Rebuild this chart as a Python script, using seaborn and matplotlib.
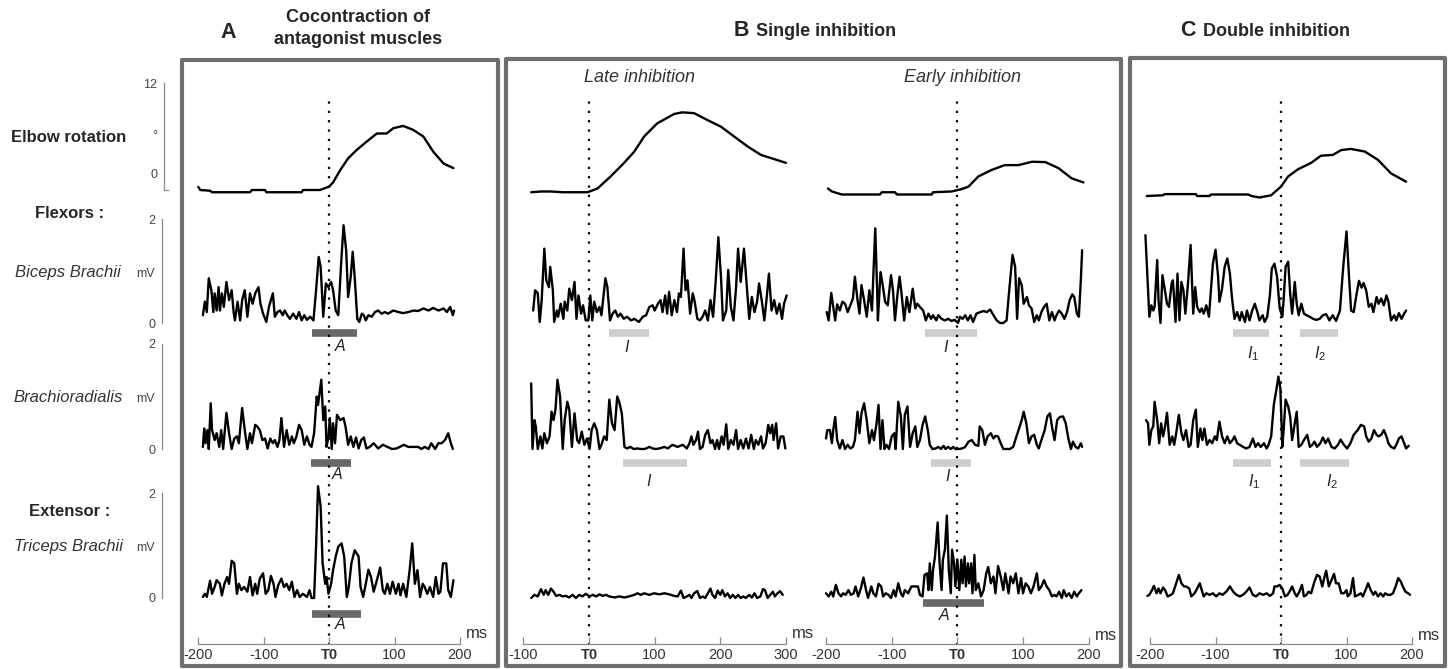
import numpy as np
import pandas as pd
import matplotlib
matplotlib.use('Agg')
import matplotlib.pyplot as plt
import seaborn as sns
from matplotlib.patches import Rectangle

sns.set_theme(style='white')
plt.rcParams['font.family'] = ['Liberation Sans', 'DejaVu Sans']
plt.rcParams['mathtext.fontset'] = 'custom'
plt.rcParams['mathtext.it'] = 'Liberation Sans:italic'
plt.rcParams['mathtext.rm'] = 'Liberation Sans'

# ---------------- DATA (time in ms, elbow in deg, EMG in mV) ----------------
A_elbow = [(-200,-1.8),(-197,-2.2),(-182,-2.3),(-179,-2.5),(-121,-2.5),(-118,-2.2),(-98,-2.2),(-96,-2.5),
           (-42,-2.5),(-40,-2.2),(-14,-2.2),(0,-1.75),(6,-1.2),(17,0.45),(29,2.0),(42,3.1),(57,4.2),(73,5.3),
           (88,5.3),(98,6.0),(113,6.3),(128,5.8),(144,4.9),(159,2.9),(175,1.3),(190,0.7)]
Bl_elbow = [(-88,-2.5),(-73,-2.4),(-58,-2.4),(-40,-2.5),(-2,-2.5),(13,-2.0),(33,-0.4),(53,1.35),(69,2.9),
            (84,4.9),(104,6.65),(130,7.9),(142,8.1),(160,8.0),(180,7.1),(201,6.2),(221,4.9),(242,3.55),
            (262,2.45),(282,1.9),(300,1.4)]
Be_elbow = [(-197,-2.0),(-191,-2.4),(-176,-2.8),(-118,-2.8),(-115,-2.5),(-95,-2.5),(-92,-2.8),(-39,-2.8),
            (-37,-2.5),(-9,-2.4),(6,-2.1),(17,-1.75),(32,-0.4),(52,0.45),(72,1.1),(93,1.1),(114,1.55),
            (134,1.5),(154,0.7),(174,-0.65),(192,-1.2)]
C_elbow = [(-205,-3.0),(-180,-2.9),(-178,-2.75),(-130,-2.75),(-128,-3.0),(-109,-3.0),(-107,-2.8),(-50,-2.8),
           (-45,-3.0),(-33,-3.2),(-15,-2.9),(0,-1.75),(11,-0.4),(26,0.55),(46,1.4),(61,2.35),(79,2.45),
           (92,3.1),(107,3.25),(128,2.9),(148,1.8),(168,0.0),(191,-1.1)]

A_biceps = [(-193,.15),(-190,.41),(-187,.21),(-184,.86),(-180,.63),(-177,.21),(-175,.57),(-172,.24),(-169,.69),
            (-167,.24),(-164,.57),(-161,.31),(-157,.79),(-153,.44),(-149,.63),(-146,.21),(-144,.05),(-140,.41),
            (-136,.05),(-133,.44),(-129,.63),(-125,.12),(-121,.57),(-117,.37),(-113,.57),(-108,.69),(-105,.37),
            (-101,.18),(-96,.02),(-92,.31),(-86,.57),(-83,.12),(-79,.21),(-75,.24),(-71,.15),(-68,.24),(-64,.15),
            (-60,.08),(-55,.18),(-50,.08),(-46,.21),(-42,.05),(-38,.15),(-34,.06),(-29,.12),(-24,.05),(-20,.63),
            (-16,1.27),(-13,1.08),(-9,.12),(-5,.76),(-1,.69),(3,.79),(6,.63),(10,.24),(14,.15),(18,1.08),
            (22,1.88),(26,1.40),(29,.50),(33,.89),(36,1.37),(39,.89),(43,.08),(46,.02),(50,.18),(53,.15),
            (56,.05),(60,.15),(65,.12),(70,.21),(75,.24),(80,.18),(85,.21),(90,.18),(98,.24),(106,.21),(113,.19),
            (121,.21),(129,.24),(136,.23),(144,.28),(152,.24),(159,.29),(167,.24),(175,.28),(180,.21),(185,.31),
            (189,.15),(191,.24)]
A_brachio = [(-193,.04),(-191,.39),(-189,.11),(-186,.36),(-184,0),(-181,.87),(-179,.36),(-175,.17),(-172,.30),
             (-168,.04),(-165,.36),(-162,0),(-157,.69),(-153,.30),(-149,0),(-145,.20),(-141,.24),(-138,.11),
             (-133,.78),(-129,.36),(-125,0),(-121,.30),(-118,.11),(-113,.46),(-110,.43),(-106,.36),(-102,.17),
             (-98,.20),(-94,.01),(-90,.20),(-86,.11),(-83,.17),(-79,.04),(-76,.17),(-73,.59),(-69,.04),(-65,.36),
             (-61,.08),(-57,.24),(-54,.11),(-50,.24),(-46,.46),(-42,.36),(-38,.08),(-34,.24),(-30,.08),(-27,.04),
             (-23,.30),(-19,1.0),(-17,.84),(-12,1.32),(-9,.55),(-6,.81),(-4,.04),(-1,.24),(1,.59),(4,0),(6,.49),
             (9,.11),(12,.65),(17,.55),(22,.59),(25,.43),(29,.08),(33,.24),(37,.04),(41,.22),(45,.01),(49,.17),
             (53,.22),(57,.01),(62,.04),(68,.11),(75,.01),(82,.08),(89,.04),(96,0),(103,.01),(108,.04),(114,.08),
             (121,.04),(129,.04),(136,.04),(141,0),(146,.04),(152,0),(156,.11),(162,0),(167,.11),(172,.11),
             (177,.17),(182,.30),(186,.11),(189,0)]
A_triceps = [(-193,.02),(-190,.08),(-187,.02),(-182,.33),(-179,.08),(-175,.21),(-172,.34),(-167,.27),(-164,.05),
             (-160,.27),(-156,.40),(-153,.27),(-149,.71),(-145,.66),(-141,.08),(-138,.27),(-134,.15),(-130,.21),
             (-125,.12),(-121,.40),(-117,.05),(-113,.27),(-110,.08),(-106,.37),(-101,.47),(-97,.08),(-93,.15),
             (-89,.42),(-85,.27),(-82,.02),(-78,.24),(-73,.37),(-69,.21),(-65,.27),(-61,.15),(-57,.31),(-53,.02),
             (-49,.15),(-45,.02),(-40,.08),(-34,.02),(-30,.15),(-27,0),(-23,0),(-20,.98),(-17,2.13),(-13,1.74),
             (-10,.66),(-6,.27),(-4,.40),(-1,.08),(3,.27),(6,.53),(10,.79),(14,.98),(19,1.04),(23,.79),(27,.02),
             (30,.21),(34,.66),(39,.91),(45,.79),(48,.21),(52,.02),(56,.27),(60,.54),(64,.40),(68,.12),(73,.34),
             (78,.58),(82,.15),(85,.08),(89,.27),(93,.08),(97,.31),(102,.08),(106,.27),(109,.05),(113,.27),
             (118,.02),(123,.53),(127,1.04),(131,.27),(135,.53),(139,.02),(143,.27),(146,.21),(150,.08),(154,.21),
             (159,.02),(163,.40),(167,.08),(170,.12),(174,.66),(179,.66),(182,.15),(186,.02),(190,.34)]

Bl_biceps = [(-85,.24),(-82,.63),(-78,.57),(-75,.02),(-72,.44),(-68,1.43),(-65,.82),(-61,.69),(-59,1.08),(-55,.63),
             (-53,.02),(-49,.24),(-47,.12),(-43,.37),(-39,.08),(-37,.41),(-33,.24),(-30,.66),(-26,.44),(-22,.79),
             (-19,.08),(-16,.53),(-12,.18),(-9,.34),(-5,.05),(-1,.05),(2,.53),(5,.05),(8,.41),(12,.21),(16,.31),
             (19,.15),(25,.86),(28,.69),(32,.05),(36,.18),(40,.24),(44,.12),(48,.18),(53,.08),(58,.12),(64,.05),
             (69,.08),(76,.02),(82,.12),(87,.15),(92,.31),(97,.34),(100,.24),(105,.37),(109,.44),(112,.21),
             (116,.53),(119,.18),(122,.60),(126,.15),(130,.44),(134,.21),(137,.57),(140,.50),(144,1.43),(147,.63),
             (150,.82),(154,.18),(158,.57),(161,.41),(165,.08),(169,.05),(173,.12),(177,.24),(181,.05),(185,.44),
             (189,.12),(193,.82),(197,1.65),(201,.89),(204,.05),(209,.24),(212,1.02),(216,.31),(220,.05),(224,.69),
             (227,1.43),(231,.79),(236,1.43),(240,.76),(244,.08),(248,.50),(252,.21),(256,.41),(259,.76),(263,.44),
             (267,.05),(270,.41),(274,.95),(278,.24),(282,.44),(286,.18),(290,.37),(294,.08),(297,.37),(301,.53)]
Bl_brachio = [(-88,1.25),(-86,0),(-83,.55),(-81,.43),(-78,0),(-74,.24),(-71,.01),(-68,.30),(-64,.11),(-60,.24),
              (-57,.71),(-54,.55),(-51,.75),(-48,1.32),(-44,1.0),(-40,0),(-37,.55),(-33,.90),(-30,.75),(-26,.04),
              (-22,.68),(-18,.17),(-15,.11),(-11,.33),(-7,.08),(-3,.20),(1,0),(4,.36),(8,.49),(12,.36),(16,0),
              (19,.08),(23,.24),(27,.17),(31,.94),(35,.49),(39,.36),(43,1.0),(46,.90),(50,.68),(54,.04),(58,.01),
              (63,.04),(68,0),(74,.01),(79,0),(85,0),(92,.04),(97,.01),(102,0),(107,.01),(115,.04),(120,.01),
              (127,.08),(135,.04),(143,.08),(149,.01),(153,.11),(156,.24),(159,.08),(163,.17),(166,.33),(169,0),
              (173,.04),(177,.27),(181,.36),(185,.11),(188,.17),(192,0),(195,.17),(198,0),(202,.24),(205,.08),
              (209,.47),(212,0),(216,.17),(220,.08),(224,.36),(227,0),(231,.17),(235,.01),(239,.20),(243,.01),
              (247,.27),(251,0),(254,.17),(258,.08),(262,.24),(265,.01),(269,.11),(273,.46),(276,.30),(279,.46),
              (281,.17),(285,.49),(288,.01),(292,.24),(296,.24),(299,.01)]
Bl_triceps = [(-88,0),(-83,.06),(-78,.03),(-73,.17),(-69,.06),(-66,.15),(-62,.06),(-58,.18),(-54,.12),(-50,.04),
              (-45,.06),(-40,.03),(-35,.04),(-30,.01),(-25,.06),(-20,0),(-15,.06),(-10,.03),(-5,.08),(1,.03),
              (6,.06),(11,.03),(16,.07),(21,.04),(26,.06),(31,.03),(39,.01),(46,.03),(54,.01),(61,.03),(69,.06),
              (74,.09),(79,.06),(84,.09),(92,.06),(99,.09),(107,.07),(115,.09),(122,.07),(130,.04),(135,.03),
              (140,.14),(144,0),(149,.03),(153,.06),(156,0),(160,.09),(165,.13),(169,0),(173,.03),(177,0),
              (181,.09),(185,.18),(188,.06),(192,0),(196,.14),(200,.06),(203,.15),(207,.03),(211,.09),(215,0),
              (219,.06),(223,0),(227,.06),(231,0),(235,.03),(239,0),(244,.06),(248,.01),(252,.09),(256,0),
              (261,.03),(265,.17),(268,.15),(272,0),(276,.06),(280,.12),(283,.03),(287,.09),(291,.13),(295,.06)]

Be_biceps = [(-199,.21),(-196,.05),(-192,.58),(-189,.31),(-186,.05),(-183,.36),(-179,.24),(-175,.41),(-171,.37),
             (-167,.21),(-163,.34),(-159,.47),(-156,.89),(-152,.44),(-149,.18),(-146,.73),(-142,.44),(-138,.12),
             (-134,.63),(-130,.24),(-128,.89),(-125,1.82),(-122,.57),(-121,.05),(-117,.98),(-114,.76),(-110,.41),
             (-106,.34),(-101,.92),(-98,.63),(-95,.05),(-91,.57),(-88,.89),(-85,.57),(-81,.05),(-77,.50),(-73,.21),
             (-68,.66),(-64,.28),(-61,.37),(-57,.31),(-52,.24),(-48,.05),(-44,.18),(-40,.08),(-37,.15),(-32,.05),
             (-29,.15),(-24,.08),(-19,.05),(-14,.08),(-9,.04),(-4,.06),(1,0),(4,.12),(8,.08),(12,.15),(16,.05),
             (20,.15),(24,.02),(29,.18),(35,.21),(40,.23),(45,.21),(50,.26),(55,.15),(60,.05),(65,0),(70,0),
             (75,.05),(79,.63),(84,1.31),(88,1.08),(91,.08),(94,.86),(98,.73),(101,.37),(106,.50),(109,.34),
             (113,.28),(117,.02),(121,.15),(124,.05),(128,.21),(132,.31),(136,.37),(140,.05),(144,.21),(148,.05),
             (151,.15),(155,.24),(159,.18),(163,.08),(167,.21),(171,.44),(175,.55),(178,.50),(182,.18),(185,.12),
             (188,.82),(190,1.40)]
Be_brachio = [(-200,.20),(-198,.36),(-194,.36),(-191,.11),(-189,.36),(-186,.61),(-183,.17),(-179,.01),(-175,.17),
              (-171,0),(-167,.08),(-163,.01),(-159,.04),(-156,.17),(-152,.71),(-149,.30),(-146,.68),(-142,.87),
              (-138,.55),(-134,.11),(-130,.36),(-127,.17),(-123,.49),(-120,.84),(-117,0),(-114,.55),(-111,0),
              (-108,.08),(-104,0),(-100,.24),(-96,.30),(-94,0),(-90,.90),(-86,.62),(-83,0),(-80,.65),(-76,.81),
              (-72,.04),(-68,.30),(-64,.43),(-61,.04),(-57,.17),(-53,.46),(-49,.62),(-45,.36),(-42,.08),(-38,0),
              (-33,.01),(-29,.04),(-25,0),(-21,.06),(-18,0),(-14,.04),(-10,0),(-6,.04),(-3,0),(2,0),(7,.01),
              (12,.04),(17,.14),(22,.17),(27,.08),(32,.06),(34,.43),(38,.36),(42,.08),(46,.24),(51,.30),(55,.20),
              (58,.25),(62,.24),(66,.11),(70,0),(75,0),(80,0),(85,.04),(90,.24),(94,.39),(98,.55),(101,.71),
              (105,.49),(109,.11),(113,.24),(117,.27),(121,.08),(124,.01),(128,.17),(133,.36),(137,.62),(141,.68),
              (144,.43),(148,.17),(152,.55),(156,.61),(161,.62),(165,.49),(169,.20),(173,0),(176,.14),(180,.04),
              (184,.01),(188,.11),(190,.04)]
Be_triceps = [(-200,.09),(-196,.03),(-192,.12),(-189,.03),(-185,.25),(-181,.09),(-177,.03),(-174,.09),(-170,.06),
              (-166,.15),(-162,.06),(-158,.09),(-155,.22),(-151,.03),(-147,.18),(-143,.39),(-139,.15),(-136,0),
              (-131,.22),(-128,.09),(-124,.03),(-120,.27),(-116,.22),(-113,.03),(-109,.09),(-105,.06),(-101,0),
              (-97,.15),(-94,.03),(-90,.28),(-86,.09),(-83,.03),(-80,.15),(-75,.09),(-70,.22),(-64,.22),(-60,.22),
              (-57,.06),(-53,.03),(-50,.44),(-46,.47),(-44,.15),(-42,.66),(-39,.15),(-37,.54),(-34,.79),(-30,1.44),
              (-27,.66),(-24,.15),(-22,.73),(-19,.92),(-16,1.57),(-13,.54),(-10,.09),(-8,.92),(-5,.66),(-3,.22),
              (0,.73),(3,.15),(6,.73),(8,.28),(11,.79),(13,.22),(16,.66),(18,.28),(21,.66),(23,.09),(26,.82),
              (28,.15),(32,.28),(36,.03),(40,.15),(44,.47),(47,.59),(51,.28),(55,.41),(58,.09),(62,.61),(66,.41),
              (70,.15),(73,.47),(78,.09),(81,.41),(85,.28),(89,.47),(93,.09),(97,.38),(100,.09),(104,.28),(108,.22),
              (112,.09),(116,.22),(121,.47),(124,.15),(128,.22),(132,.34),(136,.22),(140,.15),(144,.03),(148,.06),
              (151,.03),(155,.12),(159,0),(162,.15),(166,.03),(170,.09),(174,0),(178,.12),(182,.03),(185,.09),
              (189,.15)]

C_biceps = [(-207,1.69),(-201,.12),(-198,.34),(-195,.24),(-193,.31),(-189,1.21),(-187,.44),(-184,0),(-181,.92),
            (-178,.69),(-174,.37),(-171,.31),(-167,.76),(-165,.82),(-161,.02),(-158,.95),(-155,.05),(-152,.79),
            (-149,.63),(-146,.18),(-142,.76),(-138,1.50),(-134,.18),(-131,.69),(-128,.31),(-124,.21),(-121,.28),
            (-118,.18),(-114,.34),(-110,.12),(-107,.63),(-104,1.14),(-100,1.41),(-96,.89),(-94,.41),(-90,.66),
            (-86,1.08),(-82,1.24),(-78,.95),(-75,.50),(-71,.08),(-67,.21),(-63,.05),(-60,.21),(-55,.02),(-52,.24),
            (-48,.05),(-44,.24),(-40,.37),(-36,.21),(-33,.05),(-28,.15),(-25,.02),(-21,.12),(-17,.53),(-14,1.05),
            (-10,1.14),(-6,.89),(-2,.28),(2,.12),(4,.44),(7,1.08),(11,1.18),(14,.57),(17,.18),(21,.79),(24,.37),
            (27,.15),(31,.37),(35,.18),(39,.15),(44,.12),(49,.08),(54,.06),(59,.08),(64,.15),(69,.17),(74,.05),
            (79,.15),(84,.04),(90,.24),(95,1.08),(100,1.76),(103,1.08),(107,.24),(111,.21),(115,.53),(119,.81),
            (123,.68),(126,.77),(130,.63),(134,.31),(138,.37),(141,.21),(146,.50),(149,.37),(153,.47),(157,.34),
            (161,.53),(164,.41),(168,.05),(173,.15),(176,.05),(180,.19),(184,.08),(188,.18),(191,.24)]
C_brachio = [(-206,.55),(-203,.49),(-201,.08),(-198,.36),(-195,.43),(-193,.90),(-189,.55),(-186,.11),(-183,.49),
             (-180,.24),(-177,.43),(-174,.69),(-170,.08),(-166,.24),(-163,.08),(-160,.30),(-156,.65),(-152,.30),
             (-149,.17),(-145,.36),(-141,.04),(-138,.08),(-134,.55),(-130,.75),(-127,.04),(-123,.39),(-120,.17),
             (-117,.39),(-113,.08),(-109,.17),(-105,.11),(-101,.24),(-98,.17),(-94,.52),(-90,.24),(-86,.11),
             (-82,.24),(-78,.11),(-74,.17),(-71,.24),(-67,.11),(-63,.08),(-58,.04),(-53,.01),(-48,.04),(-43,.20),
             (-39,.04),(-35,.11),(-31,.04),(-26,.11),(-22,.01),(-19,.08),(-15,.24),(-11,.84),(-7,1.13),(-4,1.38),
             (-1,1.16),(2,.04),(4,.36),(7,.94),(11,.81),(14,.62),(17,.17),(21,.49),(24,.71),(27,.04),(31,.08),
             (35,.17),(40,.27),(44,.04),(48,.08),(51,.14),(55,.04),(60,.11),(64,.22),(68,.11),(72,.20),(77,.04),
             (82,.01),(87,.08),(91,.18),(96,.08),(101,.01),(106,.11),(111,.27),(117,.36),(122,.46),(127,.43),
             (130,.24),(134,.14),(138,.20),(142,.36),(146,.27),(149,.24),(153,.27),(157,.36),(161,.24),(164,.11),
             (168,.04),(173,.01),(176,.08),(180,.20),(184,.24),(188,.11),(191,.01),(195,.06)]
C_triceps = [(-204,.04),(-201,.06),(-197,.15),(-194,.23),(-190,.09),(-187,.18),(-184,.09),(-180,.20),(-177,.15),
             (-173,.03),(-168,.06),(-165,.09),(-160,.28),(-156,.44),(-152,.28),(-148,.22),(-145,.22),(-140,.18),
             (-137,.03),(-132,.09),(-128,.18),(-124,.28),(-121,.15),(-118,.03),(-114,.09),(-109,.06),(-104,.09),
             (-99,.03),(-94,.09),(-89,.06),(-83,.13),(-78,.22),(-73,.12),(-68,.06),(-63,.03),(-58,.06),(-53,.12),
             (-48,.20),(-43,.06),(-38,.03),(-33,.09),(-27,.06),(-22,.09),(-17,.04),(-12,.09),(-10,.22),(-6,.22),
             (-2,.25),(2,.18),(6,.03),(10,.06),(13,.12),(17,.22),(21,.09),(24,.03),(28,.12),(32,.25),(35,.03),
             (39,.06),(42,.12),(46,.09),(51,.31),(55,.44),(59,.41),(63,.22),(66,.38),(69,.52),(73,.22),(77,.34),
             (81,.46),(84,.28),(88,.28),(92,.09),(96,.09),(100,.15),(102,.03),(106,.09),(110,.38),(113,.03),
             (118,.06),(122,.09),(125,.03),(129,.15),(133,.28),(137,.15),(141,.06),(144,.12),(148,.03),(152,.09),
             (156,.03),(159,.09),(163,.06),(167,.06),(171,.09),(175,.22),(179,.38),(183,.31),(186,.22),(190,.12),
             (194,.09),(197,.06)]

# analysis windows (ms): (row, start, end, kind, label)
A_windows = [('biceps', -26, 43, 'A', 'A'), ('brachio', -27, 34, 'A', 'A'), ('triceps', -26, 49, 'A', 'A')]
Bl_windows = [('biceps', 30, 91, 'I', 'I'), ('brachio', 52, 150, 'I', 'I')]
Be_windows = [('biceps', -50, 30, 'I', 'I'), ('brachio', -40, 21, 'I', 'I'), ('triceps', -53, 40, 'A', 'A')]
C_windows = [('biceps', -73, -18, 'I', r'$I_{\mathit{1}}$'), ('biceps', 29, 87, 'I', r'$I_{\mathit{2}}$'),
             ('brachio', -73, -15, 'I', r'$I_{\mathit{1}}$'), ('brachio', 29, 104, 'I', r'$I_{\mathit{2}}$')]

# ---------------- LAYOUT ----------------
W, H = 1451, 669
fig = plt.figure(figsize=(W / 100, H / 100), dpi=100)
fig.patch.set_facecolor('white')

def fbox(x0, x1, y0, y1):
    return [x0 / W, 1 - y1 / H, (x1 - x0) / W, (y1 - y0) / H]

def ftext(x, y, s, **kw):
    fig.text(x / W, 1 - y / H, s, **kw)

cols = {
    'A': dict(px=(198.3, 460.0), xr=(-200, 200), ticks=[-200, -100, 0, 100, 200],
              data={'elbow': A_elbow, 'biceps': A_biceps, 'brachio': A_brachio, 'triceps': A_triceps},
              win=A_windows, ms=(477, 633)),
    'Bl': dict(px=(523.3, 786.0), xr=(-100, 300), ticks=[-100, 0, 100, 200, 300],
               data={'elbow': Bl_elbow, 'biceps': Bl_biceps, 'brachio': Bl_brachio, 'triceps': Bl_triceps},
               win=Bl_windows, ms=(803, 633)),
    'Be': dict(px=(826.0, 1088.7), xr=(-200, 200), ticks=[-200, -100, 0, 100, 200],
               data={'elbow': Be_elbow, 'biceps': Be_biceps, 'brachio': Be_brachio, 'triceps': Be_triceps},
               win=Be_windows, ms=(1106, 635)),
    'C': dict(px=(1150.0, 1412.0), xr=(-200, 200), ticks=[-200, -100, 0, 100, 200],
              data={'elbow': C_elbow, 'biceps': C_biceps, 'brachio': C_brachio, 'triceps': C_triceps},
              win=C_windows, ms=(1429, 635)),
}
rows = {'elbow': (83, 193, (-2.6, 12)), 'biceps': (219, 323, (0, 2)),
        'brachio': (344, 449, (0, 2)), 'triceps': (493, 598, (0, 2))}

bar_levels = {'A': [-0.19, -0.26, -0.30], 'Bl': [-0.19, -0.27], 'Be': [-0.19, -0.27, -0.10],
              'C': [-0.19, -0.19, -0.26, -0.26]}
label_pos = {'A': [(16, -0.46), (12, -0.48), (16, -0.51)], 'Bl': [(58, -0.48), (91, -0.61)],
             'Be': [(-18, -0.48), (-15, -0.53), (-20, -0.34)],
             'C': [(-43, -0.58), (60, -0.58), (-41, -0.63), (78, -0.63)]}
bar_colors = {'A': '#686868', 'I': '#cdcdcd'}

for ck, cfg in cols.items():
    x0, x1 = cfg['px']
    xr = cfg['xr']
    axes_by_row = {}
    for rk, (y0, y1, yl) in rows.items():
        ax = fig.add_axes(fbox(x0, x1, y0, y1))
        ax.set_facecolor('none')
        df = pd.DataFrame(cfg['data'][rk], columns=['t', 'v'])
        sns.lineplot(data=df, x='t', y='v', ax=ax, color='black', lw=1.7,
                     estimator=None, sort=False)
        for ln in ax.lines:
            ln.set_clip_on(False)
            ln.set_solid_joinstyle('round')
        ax.set_xlim(xr)
        ax.set_ylim(yl)
        ax.set_xlabel('')
        ax.set_ylabel('')
        for s in ax.spines.values():
            s.set_visible(False)
        ax.set_xticks([])
        ax.set_yticks([])
        axes_by_row[rk] = ax

        if ck == 'A':
            sp = ax.spines['left']
            sp.set_visible(True)
            sp.set_color('#8c8c8c')
            sp.set_linewidth(0.9)
            if rk == 'elbow':
                sp.set_position(('outward', 24.5))
                sp.set_bounds(-2.25, 12)
                ax.set_yticks([0, 5.2, 12])
                ax.set_yticklabels(['0', '°', '12'])
                ax.set_yticks([-2.25, 12], minor=True)
            else:
                sp.set_position(('outward', 26))
                sp.set_bounds(0, 2)
                ax.set_yticks([0, 0.98, 2])
                ax.set_yticklabels(['0', 'mV', '2'])
                ax.set_yticks([0, 2], minor=True)
            ax.tick_params(axis='y', which='major', length=0, pad=5, labelsize=9, labelcolor='#444444')
            ax.tick_params(axis='y', which='minor', length=3.5, width=0.9, direction='in', color='#8c8c8c', left=True)

    for i, (rk, t0, t1, kind, lab) in enumerate(cfg['win']):
        ax = axes_by_row[rk]
        lvl = bar_levels[ck][i]
        ax.hlines(lvl, t0, t1, colors=bar_colors[kind], lw=5.5, clip_on=False, zorder=1)
        lt, lv = label_pos[ck][i]
        ax.text(lt, lv, lab, ha='center', va='center', fontsize=11.5, style='italic', color='#222222')

    axd = fig.add_axes(fbox(x0, x1, 100, 645))
    axd.set_facecolor('none')
    axd.set_xlim(xr)
    axd.set_ylim(0, 1)
    axd.axis('off')
    axd.axvline(0, color='black', lw=1.6, linestyle=(0, (1, 3.2)), zorder=0)

    axx = fig.add_axes(fbox(x0, x1, 600, 644))
    axx.set_facecolor('none')
    axx.set_xlim(xr)
    axx.set_yticks([])
    for nm, s in axx.spines.items():
        s.set_visible(nm == 'bottom')
    axx.spines['bottom'].set_color('#8c8c8c')
    axx.spines['bottom'].set_linewidth(0.9)
    axx.spines['bottom'].set_bounds(*xr)
    axx.set_xticks(cfg['ticks'])
    axx.set_xticklabels(['T0' if t == 0 else str(t) for t in cfg['ticks']])
    for lab, t in zip(axx.get_xticklabels(), cfg['ticks']):
        if t == 0:
            lab.set_fontweight('bold')
    axx.tick_params(axis='x', direction='in', length=5, width=0.9, color='#8c8c8c',
                    labelsize=10.5, labelcolor='#333333', pad=3, bottom=True)
    ftext(cfg['ms'][0], cfg['ms'][1], 'ms', ha='center', va='center', fontsize=12, color='#333333')

for (bx0, bx1, by0, by1) in [(181.5, 498, 59.5, 666), (505.5, 1121, 58.5, 666), (1130, 1445, 57.5, 666)]:
    fig.add_artist(Rectangle((bx0 / W, 1 - by1 / H), (bx1 - bx0) / W, (by1 - by0) / H,
                             transform=fig.transFigure, fill=False, ec='#6e6e6e', lw=3,
                             joinstyle='round'))

tc = '#262626'
ftext(228, 33, 'A', ha='center', va='center', fontsize=15.5, fontweight='bold', color=tc)
ftext(358, 17, 'Cocontraction of', ha='center', va='center', fontsize=13, fontweight='bold', color=tc)
ftext(358, 39, 'antagonist muscles', ha='center', va='center', fontsize=13, fontweight='bold', color=tc)
ftext(741, 30, 'B', ha='center', va='center', fontsize=15.5, fontweight='bold', color=tc)
ftext(756, 31, 'Single inhibition', ha='left', va='center', fontsize=13, fontweight='bold', color=tc)
ftext(1188, 30, 'C', ha='center', va='center', fontsize=15.5, fontweight='bold', color=tc)
ftext(1203, 31, 'Double inhibition', ha='left', va='center', fontsize=13, fontweight='bold', color=tc)
ftext(640, 78, 'Late inhibition', ha='center', va='center', fontsize=13, style='italic', color='#333333')
ftext(963, 78, 'Early inhibition', ha='center', va='center', fontsize=13, style='italic', color='#333333')

ftext(69, 138, 'Elbow rotation', ha='center', va='center', fontsize=12, fontweight='bold', color=tc)
ftext(70, 214, 'Flexors :', ha='center', va='center', fontsize=12, fontweight='bold', color=tc)
ftext(68, 272, 'Biceps Brachii', ha='center', va='center', fontsize=12, style='italic', color='#333333')
ftext(68, 398, 'Brachioradialis', ha='center', va='center', fontsize=12, style='italic', color='#333333')
ftext(70, 512, 'Extensor :', ha='center', va='center', fontsize=12, fontweight='bold', color=tc)
ftext(68, 547, 'Triceps Brachii', ha='center', va='center', fontsize=12, style='italic', color='#333333')

fig.savefig('out.png', dpi=100, facecolor='white')
